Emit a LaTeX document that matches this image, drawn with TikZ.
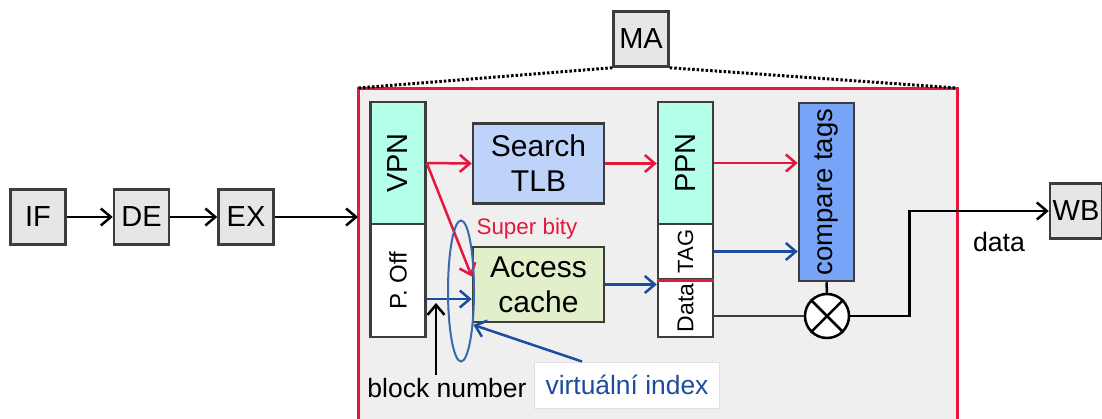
\documentclass[tikz,border=0pt]{standalone}
\usepackage{fontspec}
\setmainfont{Liberation Sans}
\usetikzlibrary{arrows.meta,positioning,shapes.geometric}

\definecolor{mared}{HTML}{E5173F}
\definecolor{mablue}{HTML}{1C4C9E}
\definecolor{regteal}{HTML}{B3FFEA}
\definecolor{tlbfill}{HTML}{BDD3F9}
\definecolor{cmpfill}{HTML}{78A4F8}
\definecolor{accfill}{HTML}{E1EFCB}
\definecolor{stagefill}{HTML}{E6E6E6}
\definecolor{mafill}{HTML}{EFEFEF}
\definecolor{edge}{HTML}{3C3C3C}

\newcommand{\fs}[1]{\fontsize{#1}{#1}\selectfont}

\begin{document}
\begin{tikzpicture}[x=1pt, y=-1pt, >={Straight Barb[length=10pt,width=17pt]}]
    \tikzset{stage/.style={draw=edge, fill=stagefill, line width=2.5pt, minimum size=55pt, inner sep=0pt, font=\fs{29}}}
    \tikzset{reg/.style={draw=edge, line width=2.5pt, rotate=90, minimum height=55pt, inner sep=0pt}}
    \tikzset{unit/.style={draw=edge, line width=2.5pt, minimum width=131pt, minimum height=80pt, inner sep=0pt, align=center, font=\fontsize{30}{35}\selectfont}}
    \tikzset{wire/.style={line width=2.5pt}}
    \useasboundingbox (0,0) rectangle (1102,418);

    % MA STAGE BLOW-UP
    \node[stage] (MA) at (641,39) {MA};
    \coordinate (mal) at (358,88);
    \coordinate (mar) at (957,88);
    \fill[mafill] (mal) rectangle (957,430);
    \draw[mared, line width=3pt] (358,430) -- (mal) -- (mar) -- (957,430);
    \draw[line width=3pt, dash pattern=on 2.5pt off 2pt] (MA.south west) -- (mal);
    \draw[line width=3pt, dash pattern=on 2.5pt off 2pt] (MA.south east) -- (mar);

    % PIPELINE STAGES
    \node[stage] (IF) at (38,217) {IF};
    \node[stage, right=46pt of IF] (DE) {DE};
    \node[stage, right=47pt of DE] (EX) {EX};
    \node[stage, minimum width=52pt] (WB) at (1076,211) {WB};
    \coordinate (main) at (358,217);
    \draw[wire, ->] (IF) -- (DE);
    \draw[wire, ->] (DE) -- (EX);
    \draw[wire, ->] (EX) -- (main);

    % ADDRESS REGISTERS
    \node[reg, fill=regteal, minimum width=122pt, font=\fs{29}] (vpn) at (398,163) {VPN};
    \node[reg, fill=white, minimum width=113pt, font=\fs{24}] (poff) at (398,280.5) {P. Off};
    \node[reg, fill=regteal, minimum width=122pt, font=\fs{29}] (ppn) at (685.5,163) {PPN};
    \node[reg, fill=white, minimum width=55pt, font=\fs{22}] (tag) at (685.5,251.5) {TAG};
    \node[reg, fill=white, minimum width=58pt, font=\fs{23}] (data) at (685.5,308) {Data};
    \draw[mared, wire] (tag.north west) -- (tag.south west);

    % TLB AND CACHE
    \node[unit, fill=tlbfill] (tlb) at (538.5,163.5) {Search\\TLB};
    \node[unit, fill=accfill, minimum height=75pt] (acc) at (538.5,284.5) {Access\\cache};
    \node[reg, fill=cmpfill, minimum width=178pt, font=\fs{27.5}] (cmp) at (826.5,192) {compare tags};
    \node[circle, draw=black, fill=white, line width=2.5pt, minimum size=44pt, inner sep=0pt] (xor) at (827,316) {};
    \draw[wire] (xor.45) -- (xor.225) (xor.135) -- (xor.-45);

    % TRANSLATION PATH
    \draw[mared, wire, ->] (vpn.south) -- (tlb.west);
    \draw[mared, wire, ->] (tlb.east) -- (tlb.east -| ppn.north);
    \draw[mared, wire, ->] (vpn.south) -- ([yshift=8pt]acc.west);
    \draw[mared, wire, ->] (ppn.south) -- (ppn.south -| cmp.north);

    % INDEX AND DATA PATH
    \draw[mablue, wire, ->] ([yshift=-14.5pt]acc.west -| poff.south) -- ([yshift=-14.5pt]acc.west);
    \draw[mablue, wire, ->] (acc.east) -- (acc.east -| data.north);
    \draw[mablue, wire, ->] (tag.south) -- (tag.south -| cmp.north);
    \draw[edge, wire] (xor.west -| data.south) -- (xor.west);
    \draw[wire] (cmp.west) -- (xor.north);
    \draw[wire, ->] (xor.east) -- ++(59,0) |- (WB.west);
    \node[font=\fs{26.7}] (dlbl) at (999,242) {data};

    % SUPER BITS AND VIRTUAL INDEX
    \node[ellipse, draw=mablue!85, line width=2pt, minimum width=26pt, minimum height=141pt, inner sep=0pt] (sel) at (461,291) {};
    \node[text=mared, font=\fs{22.4}] (sup) at (527,229) {Super bity};
    \node[font=\fs{26.5}] (blk) at (447,388) {block number};
    \coordinate (blktip) at (436,303);
    \draw[wire, ->] ([xshift=-11pt]blk.north) -- (blktip);
    \node[draw=black!12, fill=white, line width=1pt, minimum width=185pt, minimum height=46pt, text=mablue, font=\fs{26.4}] (vidx) at (627,385) {virtuální index};
    \draw[mablue, wire, ->] ([xshift=48pt]vidx.north west) -- (sel.-70);
\end{tikzpicture}
\end{document}
